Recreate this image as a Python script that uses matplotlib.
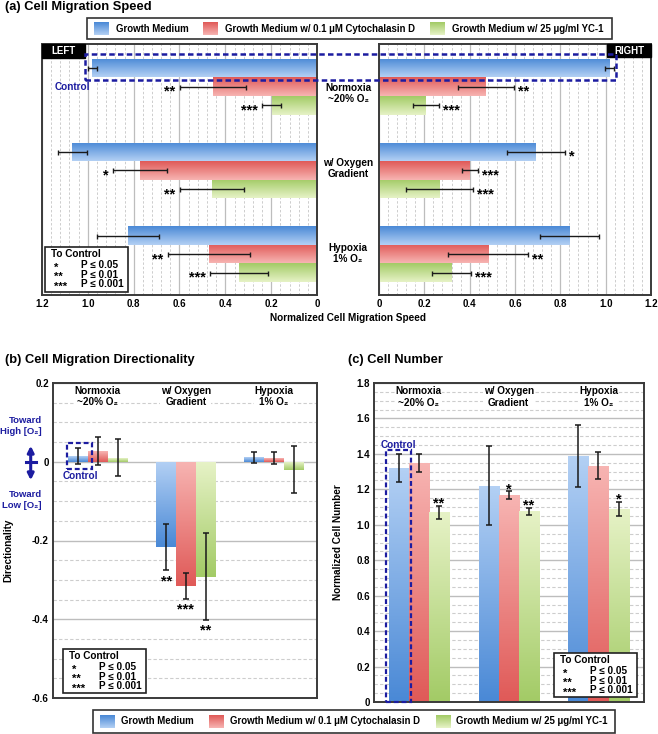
import numpy as np
import matplotlib
matplotlib.use('Agg')
import matplotlib.pyplot as plt
from matplotlib.patches import Rectangle, FancyArrowPatch
from matplotlib.colors import LinearSegmentedColormap
from matplotlib.ticker import MultipleLocator, FuncFormatter
import matplotlib.transforms as mtransforms

plt.rcParams['font.family'] = ['Liberation Sans', 'DejaVu Sans']
plt.rcParams['font.weight'] = 'bold'
plt.rcParams['axes.labelweight'] = 'bold'

# ---------------- data ----------------
conditions = ['Normoxia\n~20% O₂', 'w/ Oxygen\nGradient', 'Hypoxia\n1% O₂']
series = ['Growth Medium', 'Growth Medium w/ 0.1 μM Cytochalasin D',
          'Growth Medium w/ 25 μg/ml YC-1']

# (a) Cell migration speed (rows = series, cols = conditions)
speed_left = [[0.98, 1.067, 0.823], [0.455, 0.772, 0.471], [0.198, 0.459, 0.340]]
speed_left_err = [[0.02, 0.065, 0.135], [0.145, 0.118, 0.18], [0.04, 0.14, 0.127]]
speed_left_sig = [['', '', ''], ['**', '*', '**'], ['***', '**', '***']]
speed_right = [[1.015, 0.692, 0.841], [0.472, 0.401, 0.481], [0.206, 0.267, 0.320]]
speed_right_err = [[0.02, 0.127, 0.131], [0.124, 0.037, 0.176], [0.058, 0.147, 0.086]]
speed_right_sig = [['', '*', ''], ['**', '***', '**'], ['***', '***', '***']]

# (b) Directionality
direction = [[0.015, -0.217, 0.011], [0.027, -0.315, 0.010], [0.010, -0.292, -0.020]]
direction_err = [[0.02, 0.059, 0.015], [0.036, 0.033, 0.015], [0.047, 0.11, 0.06]]
direction_sig = [['', '**', ''], ['', '***', ''], ['', '**', '']]

# (c) Normalized cell number
cellnum = [[1.32, 1.221, 1.389], [1.347, 1.168, 1.333], [1.071, 1.075, 1.090]]
cellnum_err = [[0.081, 0.222, 0.175], [0.05, 0.02, 0.075], [0.037, 0.022, 0.04]]
cellnum_sig = [['', '', ''], ['', '*', ''], ['**', '**', '*']]

speed_ticks = [0, 0.2, 0.4, 0.6, 0.8, 1.0, 1.2]
dir_ticks = [-0.6, -0.4, -0.2, 0, 0.2]
num_ticks = [0, 0.2, 0.4, 0.6, 0.8, 1.0, 1.2, 1.4, 1.6, 1.8]

# ---------------- style ----------------
W, H = 658, 734
LIGHT = ['#b3d0f4', '#f7b4b2', '#e6f2c6']
DARK = ['#4a89d6', '#e05a58', '#a3cb66']
NAVY = '#1c1ca0'
SPINE = '#3a3a3a'
GRID_MAJ = '#bdbdbd'
GRID_MIN = '#cdcdcd'
STAR_FS = 10.5

fig = plt.figure(figsize=(W / 100, H / 100), dpi=100)


def fx(px):
    return px / W


def fy(py):
    return 1 - py / H


def gradient_fill(ax, bar, c_top, c_bottom, y_inverted=False):
    x0, y0 = bar.get_x(), bar.get_y()
    w, h = bar.get_width(), bar.get_height()
    xs = sorted([x0, x0 + w])
    ys = sorted([y0, y0 + h])
    cmap = LinearSegmentedColormap.from_list('g', [c_top, c_bottom])
    grad = np.linspace(0, 1, 64).reshape(-1, 1)
    if y_inverted:
        extent = (xs[0], xs[1], ys[1], ys[0])
    else:
        extent = (xs[0], xs[1], ys[0], ys[1])
    im = ax.imshow(grad, cmap=cmap, extent=extent, origin='upper',
                   aspect='auto', zorder=2, interpolation='bilinear')
    im.set_clip_path(bar)
    bar.set_facecolor('none')


def fmt_tick(v, _pos=None):
    if abs(v) < 1e-9:
        return '0'
    return f'{v:.1f}'


def style_axes(ax):
    for s in ax.spines.values():
        s.set_color(SPINE)
        s.set_linewidth(1.4)
    ax.tick_params(length=0, labelsize=7, pad=3)
    for lab in ax.get_xticklabels() + ax.get_yticklabels():
        lab.set_fontweight('bold')


def pbox(x0, y0, x1, y1):
    fig.add_artist(Rectangle((fx(x0), fy(y1)), fx(x1) - fx(x0), fy(y0) - fy(y1),
                             transform=fig.transFigure, facecolor='white',
                             edgecolor='#222222', linewidth=1.2, zorder=6))
    fig.text(fx(x0 + 6), fy(y0 + 7), 'To Control', fontsize=7.2, ha='left',
             va='center', zorder=7)
    rows = [('*', 'P ≤ 0.05'), ('**', 'P ≤ 0.01'), ('***', 'P ≤ 0.001')]
    for k, (s, p) in enumerate(rows):
        yy = y0 + 18 + k * 9.7
        fig.text(fx(x0 + 9), fy(yy + 2.5), s, fontsize=8, ha='left', va='center', zorder=7)
        fig.text(fx(x0 + 36), fy(yy), p, fontsize=7.2, ha='left', va='center', zorder=7)


def legend(x0, y0, x1, y1, sw_x, txt_x):
    fig.add_artist(Rectangle((fx(x0), fy(y1)), fx(x1) - fx(x0), fy(y0) - fy(y1),
                             transform=fig.transFigure, facecolor='white',
                             edgecolor='#333333', linewidth=1.2, zorder=1))
    ym = (y0 + y1) / 2
    for j in range(3):
        sax = fig.add_axes([fx(sw_x[j]), fy(ym + 6.5), 15 / W, 13 / H])
        sax.set_zorder(3)
        cmap = LinearSegmentedColormap.from_list('s', [DARK[j], LIGHT[j]])
        sax.imshow(np.linspace(0, 1, 32).reshape(-1, 1), cmap=cmap, aspect='auto')
        sax.set_axis_off()
        fig.text(fx(txt_x[j]), fy(ym), series[j], fontsize=6.9, ha='left', va='center',
                 zorder=4)


# ---------------- (a) Cell Migration Speed ----------------
GROUP_STEP = 4.5
fig.text(fx(5), fy(7), '(a) Cell Migration Speed', fontsize=9.3, ha='left', va='center')
legend(87, 18, 612, 39, [94, 203, 430], [116, 225, 452])

axL = fig.add_axes([fx(42), fy(295), 275 / W, 251 / H])
axR = fig.add_axes([fx(379), fy(295), 272 / W, 251 / H])

for ax, vals, errs, sigs, side in [(axL, speed_left, speed_left_err, speed_left_sig, -1),
                                   (axR, speed_right, speed_right_err, speed_right_sig, 1)]:
    ax.set_axisbelow(True)
    for j in range(3):
        pos = [i * GROUP_STEP + j for i in range(3)]
        bars = ax.barh(pos, vals[j], height=1.0, color=DARK[j], edgecolor='none', zorder=2)
        for b in bars:
            gradient_fill(ax, b, DARK[j], LIGHT[j], y_inverted=True)
        ax.errorbar(vals[j], pos, xerr=errs[j], fmt='none', ecolor='#1a1a1a',
                    elinewidth=1.0, capsize=1.8, capthick=1.0, zorder=4)
        for i in range(3):
            if sigs[j][i]:
                ax.annotate(sigs[j][i], xy=(vals[j][i] + errs[j][i], pos[i]),
                            xytext=(3 * side, -3.6), textcoords='offset points',
                            ha='left' if side > 0 else 'right', va='center',
                            fontsize=STAR_FS, fontweight='bold', zorder=5)
    ax.xaxis.set_major_locator(MultipleLocator(0.2))
    ax.xaxis.set_minor_locator(MultipleLocator(0.04))
    ax.xaxis.set_major_formatter(FuncFormatter(fmt_tick))
    ax.grid(axis='x', which='major', color=GRID_MAJ, linewidth=0.9, linestyle='-')
    ax.grid(axis='x', which='minor', color=GRID_MIN, linewidth=0.7, linestyle=(0, (2.5, 2)))
    ax.set_yticks([])
    ax.tick_params(axis='x', which='minor', length=0)
    style_axes(ax)
    ax.set_ylim(12.2, -1.3)

axL.set_xlim(1.2, 0)
axR.set_xlim(0, 1.2)

# category labels between the two halves
blend = mtransforms.blended_transform_factory(fig.transFigure, axL.transData)
label_shift = [0.38, -0.1, -0.05]
for i, c in enumerate(conditions):
    fig.text(fx(348), i * GROUP_STEP + 1 + label_shift[i], c, transform=blend,
             ha='center', va='center', fontsize=7.2, linespacing=1.15)

fig.text(fx(348), fy(318), 'Normalized Cell Migration Speed', ha='center',
         va='center', fontsize=7.2)

# LEFT / RIGHT tags
for (x0, x1, y0, y1, t) in [(42, 85, 44, 58, 'LEFT'), (607, 651, 44, 57, 'RIGHT')]:
    fig.add_artist(Rectangle((fx(x0), fy(y1)), fx(x1) - fx(x0), fy(y0) - fy(y1),
                             transform=fig.transFigure, facecolor='black',
                             edgecolor='black', zorder=5))
    fig.text(fx((x0 + x1) / 2), fy((y0 + y1) / 2), t, color='white', fontsize=7,
             ha='center', va='center', zorder=6)

# Control annotation (a)
fig.add_artist(Rectangle((fx(85), fy(80)), fx(616) - fx(85), fy(54) - fy(80),
                         transform=fig.transFigure, fill=False, edgecolor=NAVY,
                         linewidth=1.8, linestyle=(0, (2.2, 1.3)), zorder=6))
fig.text(fx(55), fy(87), 'Control', color=NAVY, fontsize=7.2, ha='left', va='center')
pbox(45, 247, 128, 292)

# ---------------- (b) Directionality ----------------
BW = 0.224
fig.text(fx(5), fy(360), '(b) Cell Migration Directionality', fontsize=9.3,
         ha='left', va='center')
axB = fig.add_axes([fx(53), fy(698), 264 / W, 315 / H])
axB.set_axisbelow(True)
for j in range(3):
    xs = [i + (j - 1) * BW for i in range(3)]
    bars = axB.bar(xs, direction[j], width=BW, color=DARK[j], edgecolor='none', zorder=2)
    for b in bars:
        gradient_fill(axB, b, LIGHT[j], DARK[j])
    axB.errorbar(xs, direction[j], yerr=direction_err[j], fmt='none', ecolor='#1a1a1a',
                 elinewidth=1.1, capsize=2.2, capthick=1.1, zorder=4)
    for i in range(3):
        if direction_sig[j][i]:
            axB.annotate(direction_sig[j][i],
                         xy=(xs[i], direction[j][i] - direction_err[j][i]),
                         xytext=(0, -10.5), textcoords='offset points', ha='center',
                         va='baseline', fontsize=STAR_FS, fontweight='bold', zorder=5)
axB.set_xlim(-0.51, 2.49)
axB.set_ylim(-0.6, 0.2)
axB.set_xticks([])
axB.set_yticks(dir_ticks)
axB.yaxis.set_minor_locator(MultipleLocator(0.05))
axB.yaxis.set_major_formatter(FuncFormatter(fmt_tick))
axB.grid(axis='y', which='major', color=GRID_MAJ, linewidth=1.0, linestyle='-')
axB.grid(axis='y', which='minor', color=GRID_MIN, linewidth=0.8, linestyle=(0, (3, 2)))
axB.tick_params(axis='y', which='minor', length=0)
style_axes(axB)
axB.set_ylabel('Directionality', fontsize=7.2, fontweight='bold')
axB.yaxis.set_label_coords((13 - 53) / 264, 0.47)
blendB = mtransforms.blended_transform_factory(axB.transData, axB.transAxes)
for i, c in enumerate(conditions):
    axB.text(i, 0.956, c, transform=blendB, ha='center', va='center', fontsize=7.2,
             linespacing=1.15, zorder=5,
             bbox=dict(facecolor='white', edgecolor='none', pad=0.3))

# directional arrow annotation
fig.text(fx(42), fy(426), 'Toward\nHigh [O₂]', color=NAVY, fontsize=6.8, ha='right',
         va='center', multialignment='right', linespacing=1.15)
fig.text(fx(42), fy(500), 'Toward\nLow [O₂]', color=NAVY, fontsize=6.8, ha='right',
         va='center', multialignment='right', linespacing=1.15)
fig.add_artist(FancyArrowPatch((fx(30.7), fy(443)), (fx(30.7), fy(483)),
                               transform=fig.transFigure, arrowstyle='<|-|>',
                               mutation_scale=9, color=NAVY, linewidth=2.2))
fig.add_artist(matplotlib.lines.Line2D([fx(26), fx(35.5)], [fy(462), fy(462)],
                                       transform=fig.transFigure, color=NAVY, linewidth=2.2))
axB.add_patch(Rectangle((-0.356, -0.018), 0.291, 0.0665, fill=False, edgecolor=NAVY,
                        linewidth=1.6, linestyle=(0, (2.2, 1.3)), zorder=6, clip_on=False))
fig.text(fx(80), fy(476), 'Control', color=NAVY, fontsize=7.2, ha='center', va='center')
pbox(63, 649, 146, 693)

# ---------------- (c) Cell Number ----------------
fig.text(fx(348), fy(360), '(c) Cell Number', fontsize=9.3, ha='left', va='center')
axC = fig.add_axes([fx(374), fy(702), 270 / W, 319 / H])
axC.set_axisbelow(True)
for j in range(3):
    xs = [i + (j - 1) * BW for i in range(3)]
    bars = axC.bar(xs, cellnum[j], width=BW, color=DARK[j], edgecolor='none', zorder=2)
    for b in bars:
        gradient_fill(axC, b, LIGHT[j], DARK[j])
    axC.errorbar(xs, cellnum[j], yerr=cellnum_err[j], fmt='none', ecolor='#1a1a1a',
                 elinewidth=1.1, capsize=2.2, capthick=1.1, zorder=4)
    for i in range(3):
        if cellnum_sig[j][i]:
            axC.annotate(cellnum_sig[j][i],
                         xy=(xs[i], cellnum[j][i] + cellnum_err[j][i]),
                         xytext=(0, -1.5), textcoords='offset points', ha='center',
                         va='baseline', fontsize=STAR_FS, fontweight='bold', zorder=5)
axC.set_xlim(-0.50, 2.507)
axC.set_ylim(0, 1.8)
axC.set_xticks([])
axC.set_yticks(num_ticks)
axC.yaxis.set_minor_locator(MultipleLocator(0.05))
axC.yaxis.set_major_formatter(FuncFormatter(fmt_tick))
axC.grid(axis='y', which='major', color=GRID_MAJ, linewidth=1.0, linestyle='-')
axC.grid(axis='y', which='minor', color=GRID_MIN, linewidth=0.8, linestyle=(0, (3, 2)))
axC.tick_params(axis='y', which='minor', length=0)
style_axes(axC)
axC.set_ylabel('Normalized Cell Number', fontsize=7.2, fontweight='bold')
axC.yaxis.set_label_coords((343 - 374) / 270, 0.5)
blendC = mtransforms.blended_transform_factory(axC.transData, axC.transAxes)
for i, c in enumerate(conditions):
    axC.text(i, 0.956, c, transform=blendC, ha='center', va='center', fontsize=7.2,
             linespacing=1.15, zorder=5,
             bbox=dict(facecolor='white', edgecolor='none', pad=0.3))
axC.add_patch(Rectangle((-0.371, 0), 0.286, 1.424, fill=False, edgecolor=NAVY,
                        linewidth=1.6, linestyle=(0, (2.2, 1.3)), zorder=6, clip_on=False))
axC.text(-0.228, 1.424, 'Control', color=NAVY, fontsize=7.2, ha='center', va='bottom',
         zorder=6)
pbox(554, 653, 637, 697)

# bottom legend
legend(93, 710, 615, 733, [100, 209, 436], [121, 230, 456])

fig.savefig('out.png', dpi=100)
